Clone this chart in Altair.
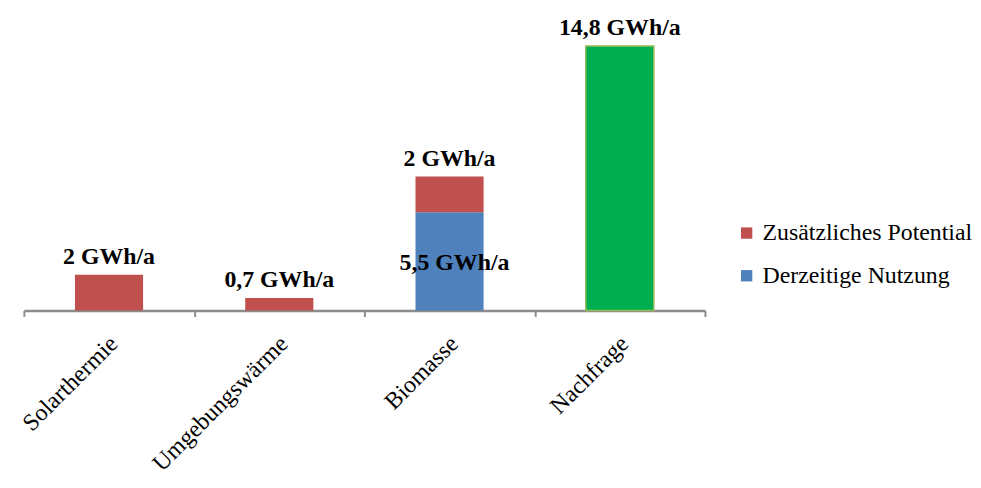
import altair as alt
import pandas as pd

categories = ["Solarthermie", "Umgebungswärme", "Biomasse", "Biomasse", "Nachfrage"]
series = ["Zusätzliches Potential", "Zusätzliches Potential", "Derzeitige Nutzung",
          "Zusätzliches Potential", "Nachfrage"]
values = [2, 0.7, 5.5, 2, 14.8]
labels = ["2 GWh/a", "0,7 GWh/a", "5,5 GWh/a", "2 GWh/a", "14,8 GWh/a"]
stack_order = [1, 1, 0, 1, 1]
cat_order = ["Solarthermie", "Umgebungswärme", "Biomasse", "Nachfrage"]
legend_series = ["Zusätzliches Potential", "Derzeitige Nutzung"]
color_domain = ["Zusätzliches Potential", "Derzeitige Nutzung", "Nachfrage"]
color_range = ["#C0504D", "#4F81BD", "#00B050"]

df = pd.DataFrame({
    "category": categories,
    "series": series,
    "value": values,
    "label": labels,
    "ord": stack_order,
})

base = alt.Chart(df).transform_stack(
    stack="value", groupby=["category"], as_=["v0", "v1"],
    sort=[alt.SortField("ord", order="ascending")]
).transform_calculate(
    vmid="(datum.v0 + datum.v1) / 2"
)

xscale = alt.Scale(paddingInner=0, paddingOuter=0)
xenc = alt.X("category:N", sort=cat_order, scale=xscale,
             axis=alt.Axis(title=None, labelAngle=-45, labelFont="Liberation Serif",
                           labelFontSize=24, labelColor="black", tickBand="extent",
                           domainColor="#8c8c8c", domainWidth=2.5, tickColor="#8c8c8c",
                           tickWidth=2, tickSize=6, labelPadding=15, labelOffset=-4,
                           labelLimit=400))
yscale = alt.Scale(domain=[0, 16])

bars = base.mark_bar(strokeWidth=1.5, width=alt.RelativeBandSize(0.4)).encode(
    x=xenc,
    y=alt.Y("v0:Q", scale=yscale, axis=None),
    y2="v1:Q",
    color=alt.Color("series:N",
                    scale=alt.Scale(domain=color_domain, range=color_range),
                    legend=alt.Legend(title=None, values=legend_series, orient="none",
                                      legendX=716, legendY=198, symbolType="square",
                                      symbolSize=130, symbolStrokeWidth=0, labelOffset=4,
                                      labelFont="Liberation Serif", labelFontSize=24,
                                      labelColor="black", rowPadding=19, padding=0,
                                      labelLimit=400)),
    stroke=alt.condition(alt.datum.series == "Nachfrage",
                         alt.value("#9BBB59"), alt.value("transparent")),
)

top_text = base.transform_filter(alt.datum.series != "Derzeitige Nutzung").mark_text(
    font="Liberation Serif", fontWeight="bold", fontSize=24, color="black",
    baseline="alphabetic", dy=-11
).encode(
    x=alt.X("category:N", sort=cat_order, scale=xscale),
    y=alt.Y("v1:Q", scale=yscale),
    text="label:N",
)

mid_text = base.transform_filter(alt.datum.series == "Derzeitige Nutzung").mark_text(
    font="Liberation Serif", fontWeight="bold", fontSize=24, color="black",
    baseline="middle", dy=2, dx=5
).encode(
    x=alt.X("category:N", sort=cat_order, scale=xscale),
    y=alt.Y("vmid:Q", scale=yscale),
    text="label:N",
)

chart = alt.layer(bars, top_text, mid_text).properties(
    width=686, height=288,
    autosize=alt.AutoSizeParams(type="none"),
    padding={"left": 16, "top": 15, "right": 270, "bottom": 165},
).configure_view(stroke=None)

chart.save("out.html", embed_options={"renderer": "svg", "actions": False})
